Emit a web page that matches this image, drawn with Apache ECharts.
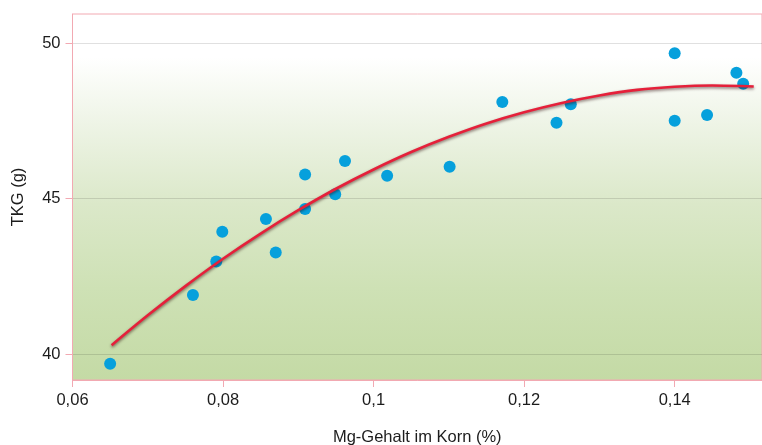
<!DOCTYPE html>
<html>
<head>
<meta charset="utf-8">
<script src="https://cdn.jsdelivr.net/npm/echarts@6/dist/echarts.min.js"></script>
<style>
html,body{margin:0;padding:0;background:#fff;}
#chart{width:762px;height:445px;}
</style>
</head>
<body>
<div id="chart"></div>
<script>
// Measured points: Mg content in grain (%) vs TKG (g)
var mgValues  = [0.0650, 0.0760, 0.0791, 0.0799, 0.0857, 0.0870, 0.0909, 0.0909, 0.0949, 0.0962,
                 0.1018, 0.1101, 0.1171, 0.1243, 0.1262, 0.1400, 0.1400, 0.1443, 0.1482, 0.1491];
var tkgValues = [39.69, 41.90, 42.98, 43.94, 44.35, 43.27, 44.67, 45.78, 45.14, 46.21,
                 45.74, 46.03, 48.11, 47.44, 48.04, 49.68, 47.51, 47.69, 49.05, 48.70];

// Trend curve
var trendX = [0.0652, 0.070, 0.075, 0.080, 0.085, 0.090, 0.095, 0.100, 0.105, 0.110,
              0.115, 0.120, 0.125, 0.130, 0.135, 0.140, 0.145, 0.1505];
var trendY = [40.29, 41.25, 42.19, 43.07, 43.88, 44.63, 45.32, 45.94, 46.50, 46.99,
              47.42, 47.78, 48.08, 48.32, 48.50, 48.60, 48.64, 48.61];

var xTickLabels = ['0,06', '0,08', '0,1', '0,12', '0,14'];
var yTickLabels = ['40', '45', '50'];

var xTitle = 'Mg-Gehalt im Korn (%)';
var yTitle = 'TKG (g)';

var scatterData = mgValues.map(function (x, i) { return [x, tkgValues[i]]; });
var trendData = trendX.map(function (x, i) { return [x, trendY[i]]; });

function fmt(v) {
  var r = Math.round(v * 10000) / 10000;
  return String(r).replace('.', ',');
}

var chart = echarts.init(document.getElementById('chart'), null, {renderer: 'canvas'});
var font = 'Liberation Sans, Arial, sans-serif';
var txt = '#1c1c1c';
chart.setOption({
  animation: false,
  grid: {
    left: 72.5, top: 14, right: 0, bottom: 65,
    containLabel: false,
    outerBoundsMode: 'none',
    show: true,
    borderColor: '#f2a9b2',
    borderWidth: 1,
    backgroundColor: {
      type: 'linear', x: 0, y: 0, x2: 0, y2: 1,
      colorStops: [
        {offset: 0, color: '#ffffff'},
        {offset: 0.12, color: '#ffffff'},
        {offset: 0.30, color: '#eef4e6'},
        {offset: 0.52, color: '#dbe8c9'},
        {offset: 0.75, color: '#cee1b5'},
        {offset: 1, color: '#c4daa5'}
      ]
    }
  },
  xAxis: {
    type: 'value',
    min: 0.06, max: 0.1516, interval: 0.02,
    name: xTitle, nameLocation: 'middle', nameGap: 49,
    nameTextStyle: {fontFamily: font, fontSize: 16.5, color: txt},
    axisLine: {show: true, lineStyle: {color: '#f2a9b2', width: 1}},
    axisTick: {show: true, length: 7, lineStyle: {color: '#f2a9b2'}},
    axisLabel: {
      margin: 12, fontFamily: font, fontSize: 16.5, color: txt,
      showMaxLabel: false,
      formatter: function (v) {
        var s = fmt(v);
        return xTickLabels.indexOf(s) >= 0 ? s : '';
      }
    },
    splitLine: {show: false}
  },
  yAxis: {
    type: 'value',
    min: 39.17, max: 50.94, splitNumber: 2, minInterval: 5, maxInterval: 5,
    name: yTitle, nameLocation: 'middle', nameGap: 46,
    nameTextStyle: {fontFamily: font, fontSize: 16.5, color: txt},
    axisLine: {show: true, lineStyle: {color: '#f2a9b2', width: 1}},
    axisTick: {show: true, length: 7, lineStyle: {color: '#f2a9b2'}},
    axisLabel: {
      margin: 12, fontFamily: font, fontSize: 16.5, color: txt,
      showMinLabel: false, showMaxLabel: false,
      formatter: function (v) {
        var s = String(Math.round(v * 100) / 100);
        return yTickLabels.indexOf(s) >= 0 ? s : '';
      }
    },
    splitLine: {show: true, showMinLine: false, showMaxLine: false,
      lineStyle: {color: 'rgba(0,0,0,0.12)', width: 1}}
  },
  series: [
    {
      type: 'scatter',
      data: scatterData,
      symbolSize: 12,
      itemStyle: {color: '#06a0dc', opacity: 1},
      z: 2
    },
    {
      type: 'line',
      data: trendData,
      smooth: 0.3,
      showSymbol: false,
      lineStyle: {
        color: '#e5203a', width: 2.6,
        shadowColor: 'rgba(40,0,0,0.55)', shadowBlur: 3, shadowOffsetY: 1.5
      },
      z: 3
    }
  ]
});
</script>
</body>
</html>
